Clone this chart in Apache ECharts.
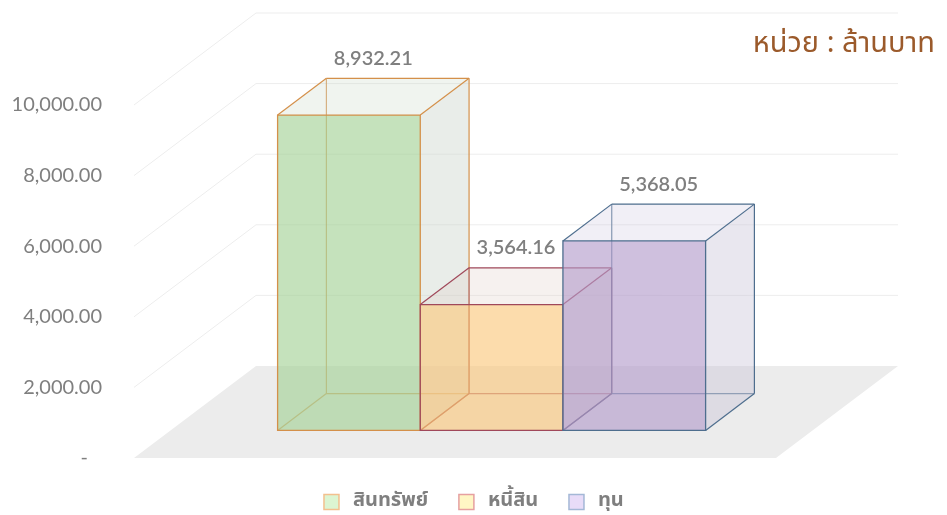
<!DOCTYPE html>
<html>
<head>
<meta charset="utf-8">
<script src="https://cdn.jsdelivr.net/npm/echarts@6/dist/echarts.min.js"></script>
<style>
html,body{margin:0;padding:0;background:#fff;}
#chart{width:947px;height:515px;}
</style>
</head>
<body>
<div id="chart"></div>
<script>
// ---- data ----
const categories = ['สินทรัพย์', 'หนี้สิน', 'ทุน'];
const values = [8932.21, 3564.16, 5368.05];
const yTicks = [0, 2000, 4000, 6000, 8000, 10000];
const unitTitle = 'หน่วย : ล้านบาท';

// ---- styles ----
const DEPTH = [122, -92];          // oblique depth vector (floor front -> back wall)
const BAR_FRONT = 0.3, BAR_BACK = 0.7;
const FLOOR_PAD = 0.75;            // floor extends beyond bars, in band units
const LABEL_DEPTH = 0.5;
const faceColors = ['rgba(163,209,149,0.63)', 'rgba(250,199,123,0.63)', 'rgba(179,155,203,0.63)'];
const sideColors = ['rgba(200,210,200,0.40)', 'rgba(215,200,195,0.40)', 'rgba(200,195,215,0.40)'];
const topColors  = ['rgba(195,210,190,0.25)', 'rgba(220,200,190,0.25)', 'rgba(200,190,220,0.25)'];
const edgeColors = ['#d4904a', '#a0485a', '#4e6e8e'];
const legendStyles = [
  {color: '#dcf5d2', borderColor: '#f3c08e', borderWidth: 1.5},
  {color: '#fff6c4', borderColor: '#e6a0a0', borderWidth: 1.5},
  {color: '#e8dcf8', borderColor: '#a4b8d6', borderWidth: 1.5}
];
const FONT = 'Lato, "Noto Sans", sans-serif';
const THAI_FONT = '"Noto Sans Thai", Tahoma, "Noto Sans", Lato, sans-serif';

function fmt(v) {
  return v.toLocaleString('en-US', {minimumFractionDigits: 2, maximumFractionDigits: 2});
}

const chart = echarts.init(document.getElementById('chart'), null, {renderer: 'canvas'});

function renderWalls(params, api) {
  const cs = params.coordSys;
  const bw = api.size([1, 0])[0];
  const fl = cs.x - FLOOR_PAD * bw;
  const fr = cs.x + cs.width + FLOOR_PAD * bw;
  const y0 = api.coord([0, 0])[1];
  const children = [];
  children.push({
    type: 'polygon',
    shape: {points: [[fl, y0], [fr, y0], [fr + DEPTH[0], y0 + DEPTH[1]], [fl + DEPTH[0], y0 + DEPTH[1]]]},
    style: {fill: '#ececec'}
  });
  yTicks.forEach(function (t) {
    if (t === 0) return;
    const y = api.coord([0, t])[1];
    children.push({
      type: 'polyline',
      shape: {points: [[fl, y], [fl + DEPTH[0], y + DEPTH[1]], [fr + DEPTH[0], y + DEPTH[1]]]},
      style: {stroke: '#ededed', lineWidth: 1, fill: null}
    });
  });
  return {type: 'group', children: children};
}

function boxGeom(api) {
  const c = api.value(0);
  const v = api.value(1);
  const base = api.coord([c, 0]);
  const top = api.coord([c, v]);
  const bw = api.size([1, 0])[0];
  return {v: v, x0: base[0] - bw / 2, x1: base[0] + bw / 2, yb: base[1], yt: top[1]};
}

function makeBoxRender(i) {
  return function (params, api) {
    const g = boxGeom(api);
    const x0 = g.x0, x1 = g.x1, yb = g.yb, yt = g.yt;
    const fx = DEPTH[0] * BAR_FRONT, fy = DEPTH[1] * BAR_FRONT;
    const bx = DEPTH[0] * BAR_BACK, by = DEPTH[1] * BAR_BACK;
    const FLB = [x0 + fx, yb + fy], FRB = [x1 + fx, yb + fy], FLT = [x0 + fx, yt + fy], FRT = [x1 + fx, yt + fy];
    const BLB = [x0 + bx, yb + by], BRB = [x1 + bx, yb + by], BLT = [x0 + bx, yt + by], BRT = [x1 + bx, yt + by];
    const ec = edgeColors[i];
    const line = function (a, b, op) {
      return {type: 'line', shape: {x1: a[0], y1: a[1], x2: b[0], y2: b[1]},
        style: {stroke: ec, lineWidth: 1.2, opacity: op == null ? 1 : op}};
    };
    const children = [];
    children.push(line(BLB, BLT, 0.8));
    children.push(line(BLB, BRB, 0.8));
    children.push(line(FLB, BLB, 0.8));
    children.push({type: 'polygon', shape: {points: [FRB, BRB, BRT, FRT]}, style: {fill: sideColors[i]}});
    children.push({type: 'polygon', shape: {points: [FLT, FRT, BRT, BLT]}, style: {fill: topColors[i]}});
    children.push({type: 'polygon', shape: {points: [FLB, FRB, FRT, FLT]}, style: {fill: faceColors[i]}});
    children.push({type: 'polygon', shape: {points: [FLB, FRB, FRT, FLT]}, style: {fill: null, stroke: ec, lineWidth: 1.3}});
    children.push(line(FLT, BLT));
    children.push(line(BLT, BRT));
    children.push(line(FRT, BRT));
    children.push(line(BRT, BRB));
    children.push(line(FRB, BRB));
    return {type: 'group', children: children};
  };
}

function renderLabel(params, api) {
  const g = boxGeom(api);
  const lx = (g.x0 + g.x1) / 2 + DEPTH[0] * LABEL_DEPTH;
  const ly = g.yt + DEPTH[1] * BAR_BACK - 20;
  return {
    type: 'text',
    style: {text: fmt(g.v), x: lx, y: ly, align: 'center', verticalAlign: 'middle',
      fill: '#7f7f7f', font: '600 20px ' + FONT}
  };
}

const series = [{
  type: 'custom',
  name: '__walls',
  renderItem: renderWalls,
  data: [[0, 0]],
  silent: true,
  z: 1
}];
categories.forEach(function (name, i) {
  series.push({
    type: 'custom',
    name: name,
    renderItem: makeBoxRender(i),
    data: [[i, values[i]]],
    itemStyle: {color: legendStyles[i].color},
    z: 2 + i
  });
});
series.push({
  type: 'custom',
  name: '__labels',
  renderItem: renderLabel,
  data: categories.map(function (n, i) { return [i, values[i]]; }),
  silent: true,
  z: 10
});

chart.setOption({
  animation: false,
  title: {
    text: unitTitle,
    right: 7,
    top: 27,
    textStyle: {color: '#9b5a2b', fontSize: 29, fontWeight: 'normal', fontFamily: THAI_FONT}
  },
  legend: {
    top: 487,
    left: 'center',
    icon: 'rect',
    itemWidth: 15,
    itemHeight: 15,
    itemGap: 30,
    textStyle: {color: '#7f7f7f', fontSize: 20, fontWeight: 'bold', fontFamily: THAI_FONT, padding: [0, 0, 0, 9]},
    data: categories.map(function (n, i) { return {name: n, itemStyle: legendStyles[i]}; })
  },
  grid: {left: 241, right: 278, top: 105, bottom: 57},
  xAxis: {
    type: 'category',
    data: categories,
    show: false,
    boundaryGap: true
  },
  yAxis: {
    type: 'value',
    min: 0,
    max: 10000,
    interval: 2000,
    axisLine: {show: false},
    axisTick: {show: false},
    splitLine: {show: false},
    axisLabel: {
      margin: 139,
      color: '#7f7f7f',
      fontSize: 20,
      fontFamily: FONT,
      formatter: function (v) { return v === 0 ? '{d|-}' : fmt(v); },
      rich: {d: {padding: [0, 14, 0, 0], color: '#7f7f7f', fontSize: 20, fontFamily: FONT}}
    }
  },
  series: series
});
</script>
</body>
</html>
